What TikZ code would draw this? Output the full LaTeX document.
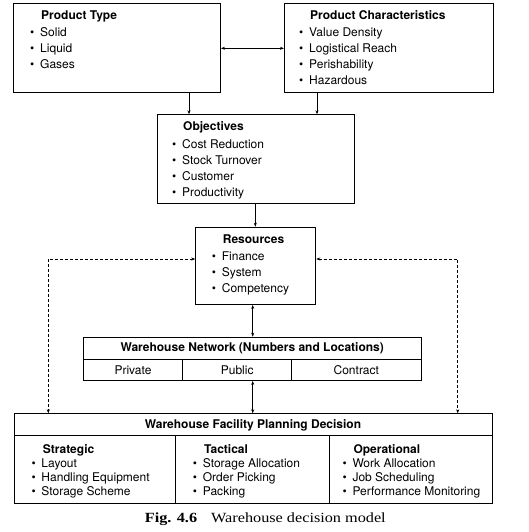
\documentclass[tikz,border=0pt]{standalone}
\usepackage{fontspec}
\setmainfont{TeX Gyre Heros}
\newfontfamily\capfont[FakeStretch=1.16]{Liberation Serif}
\usetikzlibrary{arrows.meta}
\newcommand\itm[1]{\makebox[10pt][l]{•}#1}
\begin{document}
\begin{tikzpicture}[x=1pt,y=-1pt,
  box/.style={draw, line width=0.9pt, rectangle, inner sep=0pt, anchor=north west},
  txt/.style={anchor=base west, inner sep=0pt, font=\fontsize{12}{14}\selectfont},
  ttl/.style={anchor=base west, inner sep=0pt, font=\fontsize{12}{14}\selectfont\bfseries},
  ctxt/.style={anchor=base, inner sep=0pt, font=\fontsize{12}{14}\selectfont},
  cttl/.style={anchor=base, inner sep=0pt, font=\fontsize{12}{14}\selectfont\bfseries},
  arr/.style={line width=0.6pt, -{Stealth[length=4pt,width=3pt]}},
  arrb/.style={line width=0.6pt, {Stealth[length=4pt,width=3pt]}-{Stealth[length=4pt,width=3pt]}},
  darr/.style={line width=0.6pt, dash pattern=on 3pt off 2pt, {Stealth[length=4pt,width=3pt]}-{Stealth[length=4pt,width=3pt]}},
  sep/.style={line width=0.9pt}
]
\useasboundingbox (0,0) rectangle (528,532);

% boxes
\node[box, minimum width=207pt, minimum height=89pt] (pt) at (13,3) {};
\node[box, minimum width=208.5pt, minimum height=89pt] (pc) at (284,3) {};
\node[box, minimum width=197.3pt, minimum height=88.4pt] (obj) at (156.7,114.3) {};
\node[box, minimum width=120pt, minimum height=77.3pt] (res) at (195.3,226.7) {};
\node[box, minimum width=337.7pt, minimum height=43.3pt] (net) at (83.3,336.7) {};
\node[box, minimum width=477.4pt, minimum height=90pt] (fac) at (14.3,413.3) {};

% product type
\node[ttl] (ptt) at (41,20) {Product Type};
\node[txt] (pt1) at (30,37) {\itm{Solid}};
\node[txt] (pt2) at (30,53) {\itm{Liquid}};
\node[txt] (pt3) at (30,69) {\itm{Gases}};

% product characteristics
\node[ttl] (pct) at (310,20) {Product Characteristics};
\node[txt] (pc1) at (299,37) {\itm{Value Density}};
\node[txt] (pc2) at (299,53) {\itm{Logistical Reach}};
\node[txt] (pc3) at (299,69) {\itm{Perishability}};
\node[txt] (pc4) at (299,85) {\itm{Hazardous}};

% objectives
\node[ttl] (objt) at (183,130) {Objectives};
\node[txt] (ob1) at (172,148) {\itm{Cost Reduction}};
\node[txt] (ob2) at (172,164) {\itm{Stock Turnover}};
\node[txt] (ob3) at (172,180) {\itm{Customer}};
\node[txt] (ob4) at (172,196) {\itm{Productivity}};

% resources
\node[ttl] (rest) at (222.7,243) {Resources};
\node[txt] (rs1) at (211.7,260) {\itm{Finance}};
\node[txt] (rs2) at (211.7,276) {\itm{System}};
\node[txt] (rs3) at (211.7,292) {\itm{Competency}};

% network
\draw[sep] (net.west |- 0,359.3) -- (net.east |- 0,359.3);
\draw[sep] (182.7,0 |- 0,359.3) -- (182.7,0 |- net.south);
\draw[sep] (291.7,0 |- 0,359.3) -- (291.7,0 |- net.south);
\node[cttl] (nett) at (252.2,351) {Warehouse Network (Numbers and Locations)};
\node[ctxt] (nw1) at (133,374) {Private};
\node[ctxt] (nw2) at (237.2,374) {Public};
\node[ctxt] (nw3) at (356.3,374) {Contract};

% facility
\draw[sep] (fac.west |- 0,435) -- (fac.east |- 0,435);
\draw[sep] (175.7,0 |- 0,435) -- (175.7,0 |- fac.south);
\draw[sep] (329.3,0 |- 0,435) -- (329.3,0 |- fac.south);
\node[cttl] (fact) at (253,428.5) {Warehouse Facility Planning Decision};
\node[ttl] (st) at (42.7,453.5) {Strategic};
\node[txt] (st1) at (31.3,467.5) {\itm{Layout}};
\node[txt] (st2) at (31.3,481.7) {\itm{Handling Equipment}};
\node[txt] (st3) at (31.3,495.7) {\itm{Storage Scheme}};
\node[ttl] (ta) at (204,453.5) {Tactical};
\node[txt] (ta1) at (192.7,467.5) {\itm{Storage Allocation}};
\node[txt] (ta2) at (192.7,481.7) {\itm{Order Picking}};
\node[txt] (ta3) at (192.7,495.7) {\itm{Packing}};
\node[ttl] (op) at (353.3,453.5) {Operational};
\node[txt] (op1) at (342.3,467.5) {\itm{Work Allocation}};
\node[txt] (op2) at (342.3,481.7) {\itm{Job Scheduling}};
\node[txt] (op3) at (342.3,495.7) {\itm{Performance Monitoring}};

% connectors
\draw[arrb] (pt.east |- 0,48.3) -- (pc.west |- 0,48.3);
\draw[arr] (189,0 |- pt.south) -- (189,0 |- obj.north);
\draw[arr] (317,0 |- pc.south) -- (317,0 |- obj.north);
\draw[arr] (255.3,0 |- obj.south) -- (255.3,0 |- res.north);
\draw[arrb] (252.7,0 |- res.south) -- (252.7,0 |- net.north);
\draw[arrb] (252.7,0 |- net.south) -- (252.7,0 |- fac.north);
\coordinate (dl) at (48.3,259);
\coordinate (dr) at (457.7,259);
\draw[darr] (res.west |- dl) -| (dl |- fac.north);
\draw[darr] (res.east |- dr) -| (dr |- fac.north);

% caption
\node[anchor=base, inner sep=0pt, font=\capfont\fontsize{14}{16}\selectfont] (cap) at (265.3,522.3) {{\bfseries Fig. 4.6}\hspace{1em}Warehouse decision model};
\end{tikzpicture}
\end{document}
